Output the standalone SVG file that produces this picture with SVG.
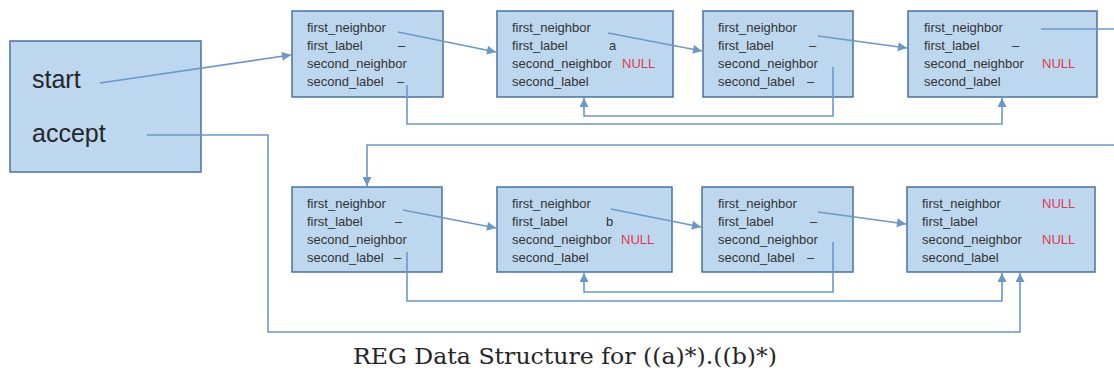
<svg xmlns="http://www.w3.org/2000/svg" width="1114" height="373" viewBox="0 0 1114 373">
  <style>
    .box { fill: #bdd7ee; stroke: #4a739e; stroke-width: 1.5; }
    .f { font-family: "Liberation Sans", Arial, sans-serif; font-size: 13px; fill: #333333; }
    .null { fill: #e0394e; }
    .big { font-family: "Liberation Sans", Arial, sans-serif; font-size: 25px; fill: #262626; }
    .cap { font-family: "DejaVu Serif", "Liberation Serif", serif; font-size: 23px; fill: #262626; }
    .c { fill: none; stroke: #6b98c9; stroke-width: 1.6; }
  </style>
  <defs>
    <marker id="arr" viewBox="0 0 10 10" refX="10" refY="5" markerWidth="10" markerHeight="9" markerUnits="userSpaceOnUse" orient="auto">
      <path d="M0,0 L10,5 L0,10 z" fill="#6b98c9"/>
    </marker>
  </defs>

  <rect width="1114" height="373" fill="#ffffff"/>

  <!-- entry record -->
  <g id="reg">
    <rect class="box" x="10" y="41" width="191" height="131"/>
    <text class="big" x="32" y="88">start</text>
    <text class="big" x="32" y="142">accept</text>
  </g>

  <!-- top row -->
  <g id="n1">
    <rect class="box" x="292" y="11" width="151" height="86"/>
    <text class="f" x="307" y="32">first_neighbor</text>
    <text class="f" x="307" y="50">first_label</text>
    <text class="f" x="307" y="68">second_neighbor</text>
    <text class="f" x="307" y="86">second_label</text>
    <text class="f" x="398" y="50">–</text>
    <text class="f" x="397" y="86">–</text>
  </g>
  <g id="n2">
    <rect class="box" x="497" y="11" width="176" height="86"/>
    <text class="f" x="512" y="32">first_neighbor</text>
    <text class="f" x="512" y="50">first_label</text>
    <text class="f" x="512" y="68">second_neighbor</text>
    <text class="f" x="512" y="86">second_label</text>
    <text class="f" x="609" y="50">a</text>
    <text class="f null" x="622" y="68">NULL</text>
  </g>
  <g id="n3">
    <rect class="box" x="703" y="11" width="150" height="86"/>
    <text class="f" x="718" y="32">first_neighbor</text>
    <text class="f" x="718" y="50">first_label</text>
    <text class="f" x="718" y="68">second_neighbor</text>
    <text class="f" x="718" y="86">second_label</text>
    <text class="f" x="809" y="50">–</text>
    <text class="f" x="807" y="86">–</text>
  </g>
  <g id="n4">
    <rect class="box" x="908" y="11" width="189" height="86"/>
    <text class="f" x="924" y="32">first_neighbor</text>
    <text class="f" x="924" y="50">first_label</text>
    <text class="f" x="924" y="68">second_neighbor</text>
    <text class="f" x="924" y="86">second_label</text>
    <text class="f" x="1012" y="50">–</text>
    <text class="f null" x="1042" y="68">NULL</text>
  </g>

  <!-- bottom row -->
  <g id="n5">
    <rect class="box" x="292" y="187" width="150" height="85"/>
    <text class="f" x="307" y="208">first_neighbor</text>
    <text class="f" x="307" y="226">first_label</text>
    <text class="f" x="307" y="244">second_neighbor</text>
    <text class="f" x="307" y="262">second_label</text>
    <text class="f" x="395" y="226">–</text>
    <text class="f" x="394" y="262">–</text>
  </g>
  <g id="n6">
    <rect class="box" x="497" y="187" width="175" height="85"/>
    <text class="f" x="512" y="208">first_neighbor</text>
    <text class="f" x="512" y="226">first_label</text>
    <text class="f" x="512" y="244">second_neighbor</text>
    <text class="f" x="512" y="262">second_label</text>
    <text class="f" x="606" y="226">b</text>
    <text class="f null" x="621" y="244">NULL</text>
  </g>
  <g id="n7">
    <rect class="box" x="702" y="187" width="151" height="85"/>
    <text class="f" x="718" y="208">first_neighbor</text>
    <text class="f" x="718" y="226">first_label</text>
    <text class="f" x="718" y="244">second_neighbor</text>
    <text class="f" x="718" y="262">second_label</text>
    <text class="f" x="810" y="226">–</text>
    <text class="f" x="807" y="262">–</text>
  </g>
  <g id="n8">
    <rect class="box" x="907" y="187" width="188" height="85"/>
    <text class="f" x="922" y="208">first_neighbor</text>
    <text class="f" x="922" y="226">first_label</text>
    <text class="f" x="922" y="244">second_neighbor</text>
    <text class="f" x="922" y="262">second_label</text>
    <text class="f null" x="1042" y="208">NULL</text>
    <text class="f null" x="1042" y="244">NULL</text>
  </g>

  <!-- pointers -->
  <g id="connectors">
    <path class="c" d="M100,83 L291,55" marker-end="url(#arr)"/>
    <path class="c" d="M398,32 L496,52" marker-end="url(#arr)"/>
    <path class="c" d="M608,33 L702,51" marker-end="url(#arr)"/>
    <path class="c" d="M818,36 L907,48" marker-end="url(#arr)"/>
    <path class="c" d="M1041,29 H1114"/>
    <path class="c" d="M833,67 V116 H584 V98" marker-end="url(#arr)"/>
    <path class="c" d="M407,85 V124 H1002 V98" marker-end="url(#arr)"/>
    <path class="c" d="M1114,145 H367 V186" marker-end="url(#arr)"/>
    <path class="c" d="M403,210 L496,228" marker-end="url(#arr)"/>
    <path class="c" d="M611,209 L701,227" marker-end="url(#arr)"/>
    <path class="c" d="M818,212 L906,224" marker-end="url(#arr)"/>
    <path class="c" d="M833,242 V292 H584 V273" marker-end="url(#arr)"/>
    <path class="c" d="M407,252 V301 H1002 V273" marker-end="url(#arr)"/>
    <path class="c" d="M147,135 H268 V332 H1020 V273" marker-end="url(#arr)"/>
  </g>

  <text class="cap" x="353" y="364" textLength="424" lengthAdjust="spacingAndGlyphs">REG Data Structure for ((a)*).((b)*)</text>
</svg>
